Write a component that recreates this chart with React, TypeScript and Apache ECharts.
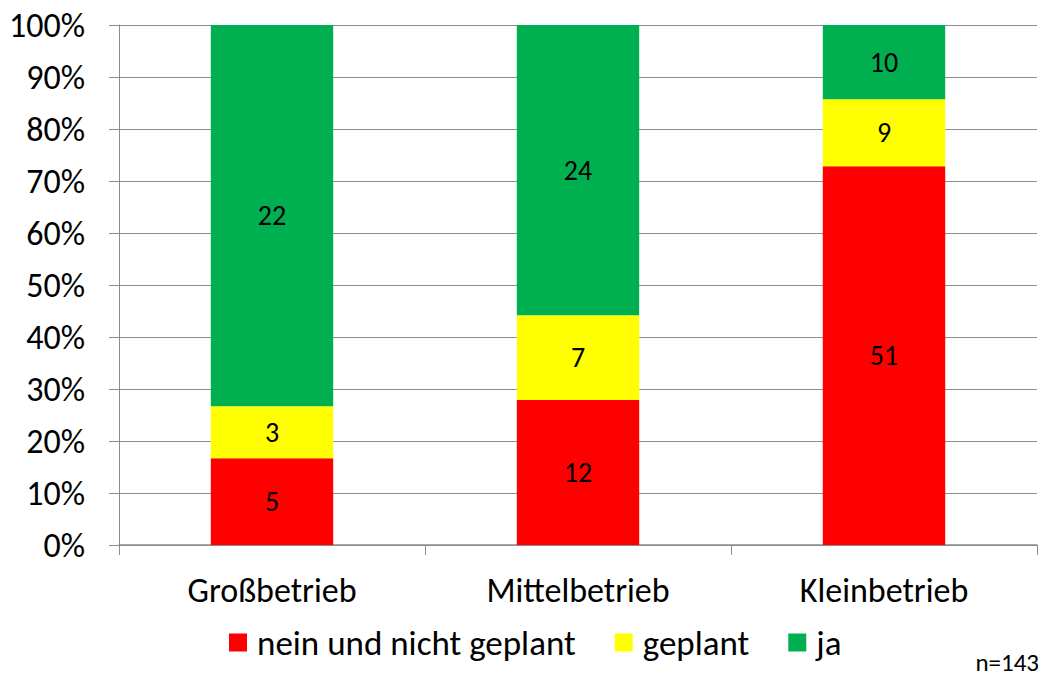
import React, { useEffect, useRef } from "react";
import * as echarts from "echarts";

const categories = ["Großbetrieb", "Mittelbetrieb", "Kleinbetrieb"];
const seriesNames = ["nein und nicht geplant", "geplant", "ja"];
const neinCounts = [5, 12, 51];
const geplantCounts = [3, 7, 9];
const jaCounts = [22, 24, 10];
const colors = ["#FF0000", "#FFFF00", "#00B050"];
const footnote = "n=143";

const FONT = "Carlito, Lato, 'Open Sans', sans-serif";

export default function App() {
  const ref = useRef<HTMLDivElement>(null);
  useEffect(() => {
    if (!ref.current) return;
    const chart = echarts.init(ref.current, undefined, { renderer: "svg" });
    const countsList = [neinCounts, geplantCounts, jaCounts];
    const totals = categories.map((_, i) => neinCounts[i] + geplantCounts[i] + jaCounts[i]);
    const series = countsList.map((counts, s) => ({
      name: seriesNames[s],
      type: "bar",
      stack: "total",
      barWidth: "40%",
      itemStyle: { color: colors[s] },
      label: {
        show: true,
        position: "inside",
        color: "#000",
        fontFamily: FONT,
        fontSize: 28,
        formatter: (p: any) => String(counts[p.dataIndex]),
      },
      data: counts.map((c, i) => (c / totals[i]) * 100),
    }));
    chart.setOption({
      animation: false,
      textStyle: { fontFamily: FONT },
      grid: { left: 119, right: 8, top: 25, bottom: 135, containLabel: false },
      legend: {
        data: seriesNames,
        bottom: 15,
        left: 224,
        itemWidth: 18,
        itemHeight: 18,
        itemGap: 39,
        icon: "rect",
        textStyle: { fontFamily: FONT, fontSize: 35, color: "#000", padding: [0, 0, 0, 5] },
      },
      xAxis: {
        type: "category",
        data: categories,
        axisLine: { lineStyle: { color: "#8c8c8c", width: 1.5 } },
        axisTick: { show: true, length: 10, lineStyle: { color: "#8c8c8c" } },
        axisLabel: { fontFamily: FONT, fontSize: 34, color: "#000", margin: 28 },
      },
      yAxis: {
        type: "value",
        min: 0,
        max: 100,
        interval: 10,
        axisLine: { show: true, lineStyle: { color: "#8c8c8c" } },
        axisTick: { show: true, length: 10, lineStyle: { color: "#8c8c8c" } },
        splitLine: { show: true, lineStyle: { color: "#8c8c8c" } },
        axisLabel: {
          fontFamily: FONT,
          fontSize: 34,
          color: "#000",
          margin: 34,
          formatter: (v: number) => v + "%",
        },
      },
      graphic: [
        {
          type: "text",
          right: 6,
          bottom: 5,
          style: { text: footnote, font: `25px ${FONT}`, fill: "#000" },
        },
      ],
      series,
    });
    return () => chart.dispose();
  }, []);
  return (
    <div
      ref={ref}
      style={{ position: "absolute", left: 0, top: 0, width: 1045, height: 680 }}
    />
  );
}
